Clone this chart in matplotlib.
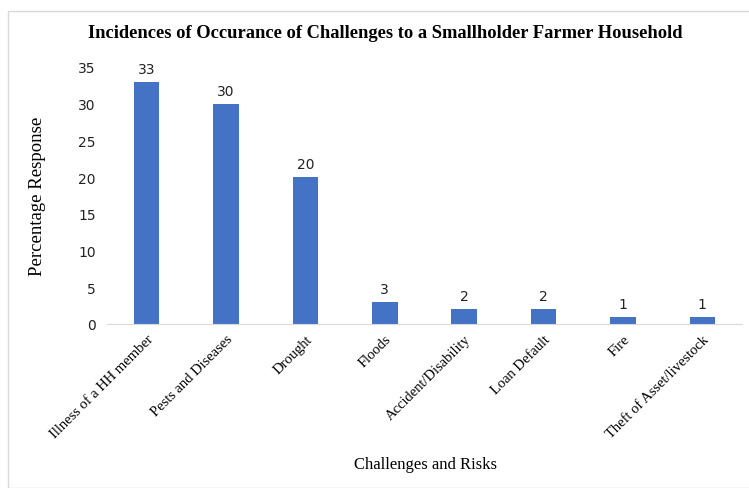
import matplotlib
matplotlib.use("Agg")
from matplotlib import pyplot as plt
from matplotlib.patches import Rectangle
import numpy as np

# data
challenges = ["Illness of a HH member", "Pests and Diseases", "Drought", "Floods",
              "Accident/Disability", "Loan Default", "Fire", "Theft of Asset/livestock"]
response = [33, 30, 20, 3, 2, 2, 1, 1]
yticks = [0, 5, 10, 15, 20, 25, 30, 35]

fig = plt.figure(figsize=(7.49, 4.89), dpi=100)
ax = fig.add_axes([107/749, 1-325/489, 635/749, (325-68)/489])

# chart border (light gray frame)
fig.patches.append(Rectangle((8/749, 0.0), 1.0, 1-12/489, transform=fig.transFigure,
                             fill=False, edgecolor="#d9d9d9", lw=1))

x = np.arange(len(challenges))
ax.bar(x, response, width=0.32, color="#4472c4")
for xi, v in zip(x, response):
    ax.text(xi, v + 0.8, str(v), ha="center", va="bottom", fontsize=10, color="#222222")

ax.set_xlim(-0.5, len(challenges) - 0.5)
ax.set_ylim(0, 35)
ax.set_yticks(yticks)
ax.set_yticklabels([str(t) for t in yticks], fontsize=10, color="#222222")
ax.set_xticks(x)
ax.set_xticklabels(challenges, rotation=45, ha="right", rotation_mode="anchor",
                   fontsize=10.5, family="Liberation Serif")
ax.tick_params(length=0, pad=8)
ax.tick_params(axis="x", pad=6)
for s in ["top", "right", "left"]:
    ax.spines[s].set_visible(False)
ax.spines["bottom"].set_color("#d9d9d9")

ax.set_ylabel("Percentage Response", fontsize=13.5, family="Liberation Serif", labelpad=23)
fig.text(425/749, 1-465/489, "Challenges and Risks", ha="center", va="center",
         fontsize=12, family="Liberation Serif")
fig.text(385/749, 1-33/489, "Incidences of Occurance of Challenges to a Smallholder Farmer Household",
         ha="center", va="center", fontsize=13.3, fontweight="bold", family="Liberation Serif")

fig.savefig("out.png", dpi=100)
